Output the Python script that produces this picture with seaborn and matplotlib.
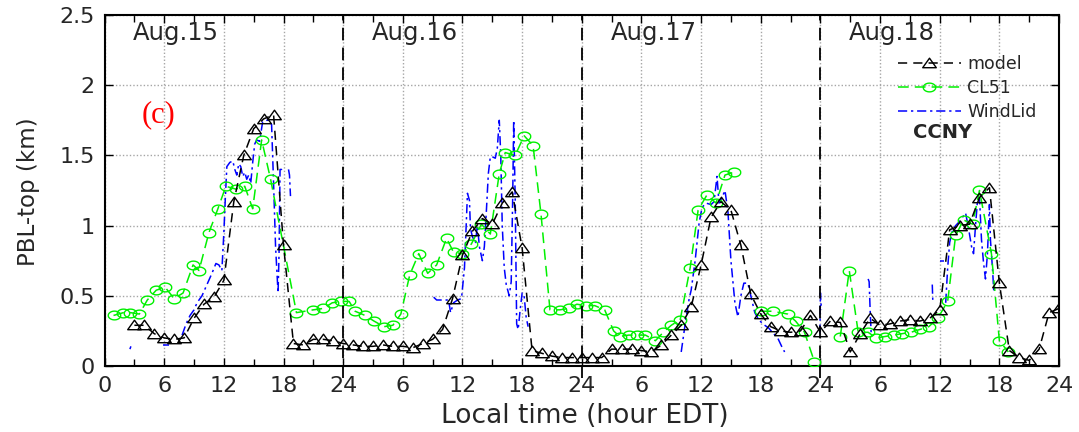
import numpy as np
import pandas as pd
import matplotlib
matplotlib.use("Agg")
import matplotlib.pyplot as plt
from matplotlib.path import Path
from matplotlib.lines import Line2D
from matplotlib.ticker import MultipleLocator, FixedLocator, FixedFormatter
import seaborn as sns

# ---------------------------------------------------------------- data
# PBL-top height (km) at CCNY, Aug 15-18, hours counted from 00 EDT Aug 15
model_hour = list(range(3, 97))
model_km = [
    0.29, 0.29, 0.23, 0.20, 0.19, 0.20, 0.34, 0.44, 0.49, 0.61,
    1.17, 1.50, 1.69, 1.76, 1.79, 0.86, 0.16, 0.15, 0.19, 0.19,
    0.18, 0.16, 0.15, 0.14, 0.14, 0.15, 0.14, 0.14, 0.13, 0.16,
    0.19, 0.26, 0.48, 0.79, 0.96, 1.05, 1.01, 1.16, 1.24, 0.84,
    0.11, 0.09, 0.07, 0.06, 0.06, 0.06, 0.06, 0.06, 0.12, 0.12,
    0.12, 0.11, 0.10, 0.15, 0.22, 0.29, 0.42, 0.72, 1.06, 1.17,
    1.11, 0.86, 0.51, 0.37, 0.28, 0.25, 0.24, 0.25, 0.36, 0.24,
    0.32, 0.31, 0.10, 0.23, 0.34, 0.29, 0.30, 0.32, 0.33, 0.32,
    0.34, 0.40, 0.97, 1.00, 1.01, 1.20, 1.27, 0.59, 0.11, 0.06,
    0.04, 0.12, 0.38, 0.41,
]

# ceilometer retrievals (hour, km); None marks a data gap
cl51_points = [
    (0.9, 0.36), (1.9, 0.38), (2.6, 0.38), (3.5, 0.37), (4.3, 0.47),
    (5.2, 0.54), (6.1, 0.56), (7.0, 0.48), (7.9, 0.52), (8.9, 0.72),
    (9.5, 0.68), (10.5, 0.95), (11.4, 1.12), (12.2, 1.28), (13.2, 1.26),
    (14.1, 1.28), (14.9, 1.12), (15.8, 1.61), (16.7, 1.33), (19.3, 0.38),
    (21.0, 0.40), (22.0, 0.41), (22.9, 0.45), (23.8, 0.46), (24.6, 0.46),
    (25.2, 0.39), (26.2, 0.36), (27.1, 0.32), (28.1, 0.28), (29.0, 0.29),
    (29.8, 0.37), (30.7, 0.65), (31.6, 0.80), (32.5, 0.66), (33.4, 0.72),
    (34.4, 0.91), (35.1, 0.81), (36.0, 0.80), (36.9, 0.87), (37.9, 1.01),
    (38.8, 0.94), (39.7, 1.37), (40.3, 1.52), (41.3, 1.50), (42.2, 1.64),
    (43.1, 1.57), (43.9, 1.08), (44.8, 0.40), (45.8, 0.40), (46.7, 0.41),
    (47.5, 0.44), (48.4, 0.43), (49.3, 0.43), (50.3, 0.40), (51.2, 0.25),
    (51.8, 0.21), (52.7, 0.22), (53.6, 0.22), (54.4, 0.22), (55.4, 0.18),
    (56.2, 0.24), (57.0, 0.29), (57.9, 0.33), (58.9, 0.70), (59.7, 1.11),
    (60.6, 1.22), (61.5, 1.16), (62.4, 1.36), (63.3, 1.38),
    None,
    (66.0, 0.39), (67.2, 0.39), (68.7, 0.37), (69.5, 0.32), (70.4, 0.24),
    (71.4, 0.03),
    None,
    (74.0, 0.21), (74.9, 0.68), (75.8, 0.24), (76.8, 0.24), (77.6, 0.20),
    (78.5, 0.21), (79.4, 0.22), (80.2, 0.23), (81.1, 0.24), (82.0, 0.26),
    (82.9, 0.28), (83.8, 0.34), (84.8, 0.46), (85.6, 0.93), (86.4, 1.04),
    (87.3, 1.01), (88.0, 1.25), (89.2, 0.80), (90.0, 0.18), (90.9, 0.10),
]

# Doppler wind lidar retrievals (hour, km); None marks a data gap
windlid_points = [
    (2.55, 0.12), (2.65, 0.14),
    None,
    (5.9, 0.15), (6.5, 0.15),
    None,
    (7.8, 0.22), (8.2, 0.30), (8.6, 0.36), (9.0, 0.40), (9.3, 0.45),
    (9.8, 0.50), (10.3, 0.58), (10.8, 0.66), (11.2, 0.73), (11.5, 0.72),
    (11.8, 0.68), (12.0, 0.95), (12.15, 1.20), (12.3, 1.42), (12.6, 1.45),
    (12.9, 1.46), (13.1, 1.40), (13.3, 1.36), (13.5, 1.44), (13.7, 1.42),
    (13.9, 1.35), (14.1, 1.38), (14.3, 1.33), (14.5, 1.36), (14.7, 1.30),
    (14.9, 1.45), (15.1, 1.58), (15.3, 1.61), (15.6, 1.60), (15.9, 1.74),
    (16.2, 1.75), (16.5, 1.75), (16.8, 1.72), (17.0, 1.30), (17.2, 0.85),
    (17.45, 0.52), (17.55, 0.80), (17.65, 1.40), (17.8, 1.40), (18.0, 1.38),
    None,
    (18.5, 1.40), (18.6, 1.36), (18.7, 1.21),
    None,
    (33.1, 0.49), (33.4, 0.47), (34.0, 0.47), (34.6, 0.47), (34.8, 0.38),
    (35.1, 0.45), (35.5, 0.47), (35.9, 0.48), (36.2, 0.70), (36.4, 1.05),
    (36.5, 1.23), (36.7, 1.18), (36.8, 0.98), (37.0, 0.92), (37.3, 0.88),
    (37.5, 1.00), (37.7, 0.85), (38.0, 0.75), (38.2, 0.85), (38.4, 1.10),
    (38.6, 1.37), (38.8, 1.49), (39.0, 1.49), (39.3, 1.48), (39.5, 1.55),
    (39.7, 1.75), (39.85, 1.50), (40.0, 1.00), (40.2, 0.70), (40.4, 0.58),
    (40.7, 0.50), (40.9, 0.60), (41.05, 1.20), (41.15, 1.75), (41.3, 1.20),
    (41.45, 0.30), (41.6, 0.26), (41.8, 0.40), (42.0, 0.52), (42.2, 0.50),
    (42.4, 0.35), (42.6, 0.28),
    None,
    (58.0, 0.10), (58.4, 0.30), (58.8, 0.48), (59.0, 0.54), (59.4, 0.75),
    (59.8, 1.02), (60.1, 1.13), (60.5, 1.16), (61.0, 1.15), (61.3, 1.17),
    (61.6, 1.35), (61.8, 1.16), (62.1, 1.20), (62.4, 1.25), (62.7, 1.10),
    (63.0, 0.75), (63.4, 0.45), (63.7, 0.35), (64.0, 0.50), (64.3, 0.59),
    (64.7, 0.59), (65.0, 0.50), (65.4, 0.38), (65.8, 0.33), (66.2, 0.30),
    (66.8, 0.27), (67.3, 0.23), (67.7, 0.20), (68.1, 0.14), (68.4, 0.10),
    None,
    (71.95, 0.23), (72.0, 0.52), (72.1, 0.40),
    None,
    (76.8, 0.62), (76.9, 0.60), (77.0, 0.40), (77.1, 0.24),
    None,
    (83.25, 0.58), (83.3, 0.47),
    None,
    (84.0, 0.75), (84.4, 0.75),
    None,
    (84.6, 0.45), (84.8, 0.70), (85.0, 0.88), (85.3, 0.97), (85.6, 1.00),
    (86.0, 1.03), (86.3, 1.06), (86.6, 1.09), (86.9, 0.98), (87.2, 0.85),
    (87.4, 0.80), (87.6, 1.00), (87.8, 1.18), (88.0, 1.20), (88.2, 0.90),
    (88.4, 0.74), (88.6, 0.62), (88.8, 0.80), (89.0, 1.15), (89.1, 0.90),
    (89.3, 0.70), (89.45, 0.52),
]

series_names = ["model", "CL51", "WindLid"]
day_labels = ["Aug.15", "Aug.16", "Aug.17", "Aug.18"]
x_ticks = list(range(0, 97, 6))
x_tick_labels = ["0", "6", "12", "18", "24", "6", "12", "18", "24",
                 "6", "12", "18", "24", "6", "12", "18", "24"]
y_ticks = [0, 0.5, 1, 1.5, 2, 2.5]
y_tick_labels = ["0", "0.5", "1", "1.5", "2", "2.5"]
panel_tag = "(c)"
site_name = "CCNY"


def to_frame(points):
    """Turn a gap-separated point list into a frame with a segment id."""
    rows, seg = [], 0
    for p in points:
        if p is None:
            seg += 1
            continue
        rows.append({"hour": p[0], "km": p[1], "seg": seg})
    return pd.DataFrame(rows)


model_df = pd.DataFrame({"hour": model_hour, "km": model_km, "seg": 0})
cl51_df = to_frame(cl51_points)
windlid_df = to_frame(windlid_points)

# --------------------------------------------------------------- style
sns.set_style("ticks")
plt.rcParams["font.family"] = ["DejaVu Sans"]

# wide open markers
tri_marker = Path([(-1.0, -0.62), (1.0, -0.62), (0.0, 0.78), (-1.0, -0.62)],
                  [Path.MOVETO, Path.LINETO, Path.LINETO, Path.CLOSEPOLY])
_t = np.linspace(0, 2 * np.pi, 41)
oval_marker = Path(np.column_stack([np.cos(_t), 0.7 * np.sin(_t)]))

model_style = dict(color="black", linestyle=(0, (6, 4)), linewidth=1.1,
                   marker=tri_marker, markersize=9.8, markerfacecolor="none",
                   markeredgecolor="black", markeredgewidth=1.0)
cl51_style = dict(color="#00f000", linestyle=(0, (7, 4)), linewidth=1.1,
                  marker=oval_marker, markersize=9.0, markerfacecolor="none",
                  markeredgecolor="#00f000", markeredgewidth=1.0)
windlid_style = dict(color="#0000ff", linestyle=(0, (6, 2.5, 1.5, 2.5)),
                     linewidth=1.1)

fig = plt.figure(figsize=(10.79, 4.32), dpi=100)
ax = fig.add_axes([0.0969, 0.1528, 0.8846, 0.8125])

sns.lineplot(data=windlid_df, x="hour", y="km", units="seg", estimator=None,
             sort=False, legend=False, ax=ax, zorder=3, **windlid_style)
sns.lineplot(data=cl51_df, x="hour", y="km", units="seg", estimator=None,
             sort=False, legend=False, ax=ax, zorder=4, **cl51_style)
sns.lineplot(data=model_df, x="hour", y="km", units="seg", estimator=None,
             sort=False, legend=False, ax=ax, zorder=5, **model_style)

# day separators
for d in (24, 48, 72):
    ax.axvline(d, ymin=-0.035, ymax=1, color="black", linewidth=1.3,
               linestyle=(0, (7, 4)), clip_on=False, zorder=6)

ax.set_xlim(0, 96)
ax.set_ylim(0, 2.5)
ax.xaxis.set_major_locator(FixedLocator(x_ticks))
ax.xaxis.set_major_formatter(FixedFormatter(x_tick_labels))
ax.xaxis.set_minor_locator(MultipleLocator(3))
ax.yaxis.set_major_locator(FixedLocator(y_ticks))
ax.yaxis.set_major_formatter(FixedFormatter(y_tick_labels))

ax.grid(True, which="major", color="0.65", linestyle=(0, (1, 1.5)),
        linewidth=1.0)
ax.set_axisbelow(True)
ax.tick_params(which="both", direction="in", top=True, right=True,
               color="black", width=1.0)
ax.tick_params(which="major", length=6, labelsize=16, pad=7)
ax.tick_params(which="minor", length=5)
for sp in ax.spines.values():
    sp.set_linewidth(1.5)
    sp.set_color("black")

ax.set_xlabel("Local time (hour EDT)", fontsize=19)
ax.set_ylabel("PBL-top (km)", fontsize=16.5)
ax.xaxis.set_label_coords(0.503, -0.105)
ax.yaxis.set_label_coords(-0.068, 0.496)

for i, lab in enumerate(day_labels):
    ax.text(24 * i + 7.2, 2.37, lab, fontsize=17.5, ha="center", va="center",
            zorder=7)

ax.text(5.4, 1.79, panel_tag, color="red", fontsize=22,
        family="Liberation Serif", ha="center", va="center", zorder=7)

handles = [
    Line2D([], [], **model_style),
    Line2D([], [], **cl51_style),
    Line2D([], [], **windlid_style),
]
leg = fig.legend(handles, series_names, loc="upper left",
                 bbox_to_anchor=(898 / 1079, 1 - 55 / 432), frameon=False,
                 fontsize=12.5, handlelength=3.6, handletextpad=0.4,
                 labelspacing=0.35, borderpad=0, borderaxespad=0,
                 numpoints=1)
fig.text(943 / 1079, 1 - 133 / 432, site_name, fontsize=14,
         fontweight="bold", ha="center", va="center")

fig.savefig("out.png", dpi=100)
